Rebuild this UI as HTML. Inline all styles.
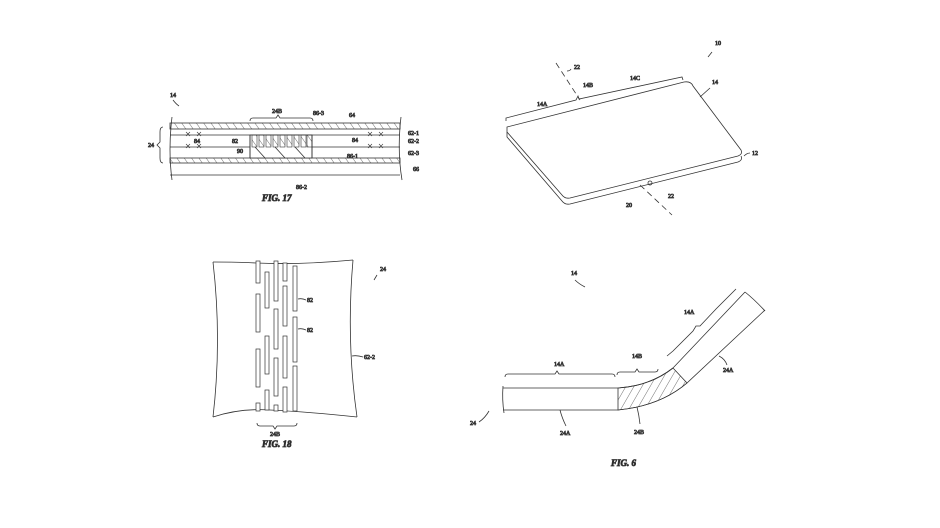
<!DOCTYPE html>
<html><head><style>
html,body{margin:0;padding:0;background:#fff;}
svg{display:block;}
text{font-family:"Liberation Serif",serif;font-size:6px;fill:#333;}
.fig{font-style:italic;font-weight:bold;font-size:9px;fill:#222;}
</style></head><body>
<svg width="940" height="528" viewBox="0 0 940 528" xmlns="http://www.w3.org/2000/svg" fill="none" stroke="#333" stroke-width="0.8">
<defs>
<pattern id="h" width="6" height="6" patternUnits="userSpaceOnUse" patternTransform="rotate(-35)">
<line x1="0" y1="0" x2="0" y2="6" stroke="#333" stroke-width="0.7"/>
</pattern>
<pattern id="h2" width="7" height="7" patternUnits="userSpaceOnUse" patternTransform="rotate(30)">
<line x1="0" y1="0" x2="0" y2="7" stroke="#333" stroke-width="0.7"/>
</pattern>
</defs>

<!-- FIG 17 -->
<g>
<rect x="170" y="123" width="230" height="6" fill="url(#h)" stroke="#333"/>
<line x1="170" y1="135" x2="400" y2="135"/>
<line x1="170" y1="147" x2="400" y2="147"/>
<rect x="170" y="158" width="230" height="5" fill="url(#h)" stroke="#333"/>
<line x1="170" y1="175" x2="400" y2="175"/>
<path d="M172 117 Q168 150 172 180"/>
<path d="M401 117 Q397 150 402 180"/>
<rect x="250" y="135" width="62" height="23" fill="#fff"/>
<g fill="url(#h)" stroke="#333" stroke-width="0.6">
<rect x="252" y="135" width="5" height="12"/><rect x="259" y="135" width="5" height="12"/>
<rect x="266" y="135" width="5" height="12"/><rect x="273" y="135" width="5" height="12"/>
<rect x="280" y="135" width="5" height="12"/><rect x="287" y="135" width="5" height="12"/>
<rect x="294" y="135" width="5" height="12"/><rect x="301" y="135" width="5" height="12"/>
<rect x="307" y="135" width="5" height="12"/>
</g>
<line x1="250" y1="135" x2="250" y2="158"/><line x1="312" y1="135" x2="312" y2="158"/>
<line x1="255" y1="147" x2="265" y2="158"/><line x1="275" y1="147" x2="285" y2="158"/><line x1="295" y1="147" x2="305" y2="158"/>
<path d="M250 121 q0 -3 3 -3 h23 l2 -3 l2 3 h30 q3 0 3 3"/>
<text x="272" y="113">24B</text>
<text x="313" y="115">86-3</text>
<text x="349" y="117">64</text>
<text x="170" y="97">14</text>
<path d="M173 100 q3 4 6 6"/>
<path d="M163 127 q-3 0 -3 5 v10 l-3 3 l3 3 v10 q0 5 3 5"/>
<text x="148" y="147">24</text>
<text x="408" y="135">62-1</text><text x="408" y="143">62-2</text><text x="408" y="155">62-3</text><text x="413" y="171">66</text>
<text x="194" y="143">84</text><text x="352" y="142">84</text>
<text x="232" y="143">82</text><text x="237" y="153">90</text>
<text x="347" y="158">86-1</text><text x="296" y="189">86-2</text>
<g stroke-width="0.6">
<path d="M186 132 l4 4 m0 -4 l-4 4 M197 132 l4 4 m0 -4 l-4 4 M186 144 l4 4 m0 -4 l-4 4 M197 144 l4 4 m0 -4 l-4 4"/>
<path d="M368 132 l4 4 m0 -4 l-4 4 M379 132 l4 4 m0 -4 l-4 4 M368 144 l4 4 m0 -4 l-4 4 M379 144 l4 4 m0 -4 l-4 4"/>
</g>
<text class="fig" x="262" y="201">FIG. 17</text>
</g>

<!-- FIG 2 device -->
<g>
<path d="M507 127 L684 82 Q691 81 693 86 L741 150 Q743 154 738 156 L570 198 Q565 199 562 195 L507 132 Z" fill="#fff"/>
<path d="M507 132 L507 137 L562 201 Q565 205 570 204 L738 162 Q743 160 741 156"/>
<path d="M506 121 l0 -3 L576 100 l2 -4 l1 3 L682 77 l1 3"/>
<text x="537" y="106">14A</text><text x="583" y="87">14B</text><text x="630" y="80">14C</text>
<text x="715" y="45">10</text><path d="M712 52 l-4 5"/>
<text x="712" y="84">14</text><path d="M710 88 l-10 9"/>
<text x="752" y="155">12</text><path d="M750 153 q-3 0 -6 3"/>
<text x="574" y="69">22</text><path d="M567 71 q3 0 4 -2"/>
<line x1="556" y1="63" x2="580" y2="100" stroke-dasharray="6 4"/>
<line x1="640" y1="185" x2="672" y2="215" stroke-dasharray="6 4"/>
<text x="668" y="198">22</text><text x="626" y="207">20</text>
<circle cx="650" cy="183" r="2"/>
</g>

<!-- FIG 18 -->
<g>
<path d="M213 262 Q222 340 213 417"/>
<path d="M353 260 Q346 340 357 417"/>
<path d="M213 262 Q240 262 256 263 Q300 265 353 260"/>
<path d="M213 417 Q240 408 270 410 Q310 412 357 417"/>
<g fill="#fff" stroke-width="0.7">
<rect x="256" y="261" width="4" height="22"/><rect x="256" y="294" width="4" height="38"/><rect x="256" y="349" width="4" height="38"/><rect x="256" y="403" width="4" height="8"/>
<rect x="265" y="272" width="4" height="36"/><rect x="265" y="336" width="4" height="38"/><rect x="265" y="390" width="4" height="20"/>
<rect x="274" y="261" width="4" height="40"/><rect x="274" y="309" width="4" height="40"/><rect x="274" y="358" width="4" height="38"/><rect x="274" y="405" width="4" height="6"/>
<rect x="283" y="263" width="4" height="18"/><rect x="283" y="286" width="4" height="40"/><rect x="283" y="336" width="4" height="42"/><rect x="283" y="387" width="4" height="25"/>
<rect x="293" y="266" width="4" height="45"/><rect x="293" y="317" width="4" height="45"/><rect x="293" y="366" width="4" height="45"/>
</g>
<text x="307" y="302">82</text><path d="M298 299 q4 -1 8 1"/>
<text x="307" y="332">82</text><path d="M298 329 q4 -1 8 1"/>
<text x="364" y="359">62-2</text><path d="M352 356 q5 -1 11 1"/>
<text x="380" y="271">24</text><path d="M377 275 l-3 5"/>
<path d="M257 423 q0 3 3 3 h13 l2 3 l2 -3 h17 q3 0 3 -3"/>
<text x="270" y="436">24B</text>
<text class="fig" x="262" y="447">FIG. 18</text>
</g>

<!-- FIG 6 -->
<g>
<path d="M618 388 Q650 386 673 368 L745 292"/>
<path d="M618 410 Q660 406 687 383 L765 310"/>
<path d="M618 388 Q650 386 673 368 L687 383 Q660 406 618 410 Z" fill="url(#h2)"/>
<line x1="503" y1="388" x2="618" y2="388"/>
<line x1="503" y1="410" x2="618" y2="410"/>
<path d="M503 386 q-1 14 1 27"/>
<path d="M745 292 q10 8 20 19"/>
<path d="M505 377 q0 -3 3 -3 h47 l2 -3 l2 3 h53 q3 0 3 3"/>
<text x="554" y="366">14A</text>
<path d="M617 375 q0 -3 3 -3 h15 l2 -3 l2 3 h16 q3 0 3 -3"/>
<text x="632" y="358">14B</text>
<path d="M667 356 l6 -5 l20 -20 l3 -5 l4 0 l16 -17 l20 -20"/>
<text x="684" y="314">14A</text>
<text x="571" y="275">14</text><path d="M575 280 q4 4 10 7"/>
<text x="723" y="372">24A</text><path d="M719 356 q6 3 8 9"/>
<text x="560" y="435">24A</text><path d="M560 410 q2 8 6 16"/>
<text x="634" y="434">24B</text><path d="M637 407 q2 8 3 17"/>
<text x="470" y="425">24</text><path d="M479 422 q6 -4 10 -11"/>
<text class="fig" x="611" y="466">FIG. 6</text>
</g>
</svg>
</body></html>
